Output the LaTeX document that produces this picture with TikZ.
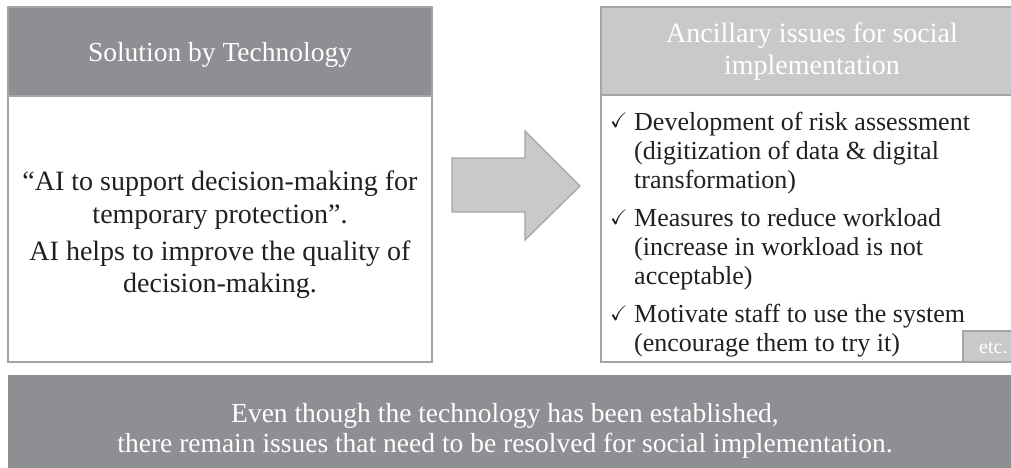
\documentclass[tikz,border=0pt]{standalone}
\usepackage{fontspec}
\setmainfont{Liberation Serif}
\usepackage{amssymb}

\definecolor{grisfonce}{RGB}{142,143,147}
\definecolor{grisclair}{RGB}{200,201,203}
\definecolor{trait}{RGB}{165,165,165}
\definecolor{encre}{RGB}{35,31,32}

\begin{document}
\begin{tikzpicture}  % ------ solution et questions annexes --------------
      [x=1pt,y=-1pt,
       cadre/.style={draw=trait,line width=1.3pt},
       titre/.style={text=white,align=center,inner sep=0pt,anchor=base},
       texte/.style={text=encre,align=left,inner sep=0pt,anchor=base west,
                     font=\fontsize{26}{29}\selectfont},
       coche/.style={text=encre,inner sep=0pt,anchor=base west,
                     font=\fontsize{21}{29}\selectfont}]
    \useasboundingbox (0,0) rectangle (1011,468);

    % cadres
    \draw[cadre,fill=white] (8,7) rectangle (432,362);
    \draw[cadre,fill=grisfonce] (8,7) rectangle (432,96);
    \draw[cadre,fill=white] (601,7) rectangle (1023,362);
    \draw[cadre,fill=grisclair] (601,7) rectangle (1023,95);
    \draw[cadre,fill=grisclair] (963,331) rectangle (1023,362);
    \fill[grisfonce] (8,375) rectangle (1023,475);

    % fleche
    \draw[cadre,fill=grisclair] (452,158) -- (525,158) -- (525,131) -- (580,186)
         -- (525,240) -- (525,212) -- (452,212) -- cycle;

    % titres (ancre = ligne de base de la derniere ligne)
    \node[titre,font=\fontsize{27.5}{32}\selectfont] (T1) at (220,62) {Solution by Technology};
    \node[titre,font=\fontsize{28}{32}\selectfont] (T2) at (812,75)
         {Ancillary issues for social\\implementation};

    % texte de gauche
    \node[titre,text=encre,font=\fontsize{28}{33}\selectfont] (P1) at (220,223)
         {“AI to support decision-making for\\temporary protection”.};
    \node[titre,text=encre,font=\fontsize{28}{32}\selectfont] (P2) at (220,292)
         {AI helps to improve the quality of\\decision-making.};

    % liste
    \node[coche] (C1) at (610,128) {$\checkmark$};
    \node[texte] (L1) at (634,188)
         {Development of risk assessment\\(digitization of data \& digital\\transformation)};
    \node[coche] (C2) at (610,224) {$\checkmark$};
    \node[texte] (L2) at (634,284)
         {Measures to reduce workload\\(increase in workload is not\\acceptable)};
    \node[coche] (C3) at (610,320) {$\checkmark$};
    \node[texte] (L3) at (634,351)
         {Motivate staff to use the system\\(encourage them to try it)};

\begin{footnotesize}
    \node[titre,font=\fontsize{20}{24}\selectfont,anchor=base west] (E) at (979,353) {etc.};
\end{footnotesize}

    % bandeau
    \node[titre,font=\fontsize{27.5}{30}\selectfont] (B) at (505,452)
         {Even though the technology has been established,\\there remain issues that need to be resolved for social implementation.};
\end{tikzpicture}
\end{document}
